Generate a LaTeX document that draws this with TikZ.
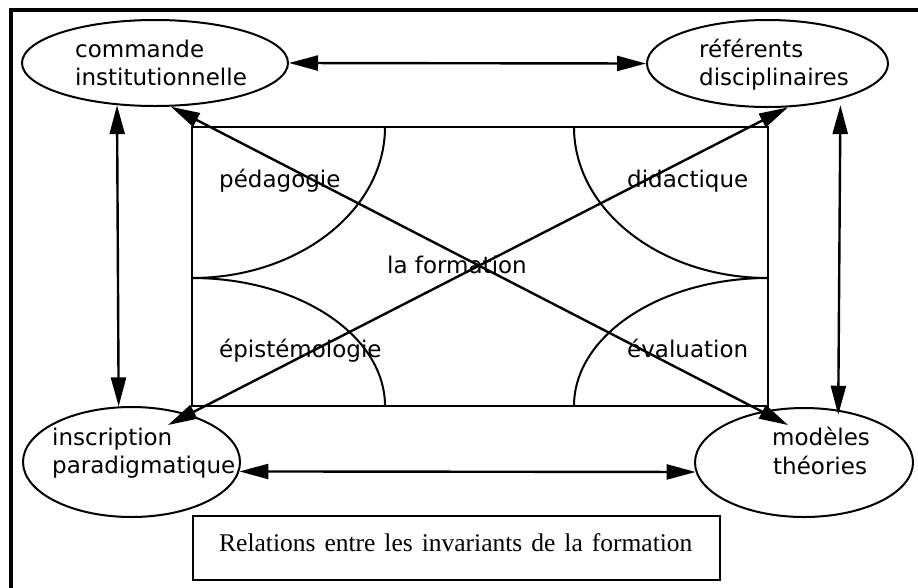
\documentclass[tikz,border=0pt]{standalone}
\usepackage{fontspec}
\setmainfont{DejaVu Sans}
\newfontfamily\capfont{Liberation Serif}
\usetikzlibrary{shapes.geometric,arrows.meta,calc}
\begin{document}
\begin{tikzpicture}[x=1pt,y=-1pt,
  lab/.style={anchor=base west, inner sep=0pt, font=\fontsize{23}{27}\selectfont},
  oval/.style={draw, ellipse, line width=2pt, inner sep=0pt},
  arr/.style={line width=2.4pt, {Triangle[length=29pt,width=15pt]}-{Triangle[length=29pt,width=15pt]}},
  shp/.style={line width=2pt}
]
\useasboundingbox (0,0) rectangle (918,587);
\clip (0,0) rectangle (918,587);
\draw[line width=3.5pt] (11,10) rectangle (940,610);

% central rectangle and quarter ellipses
\draw[shp] (192,127) rectangle (768,406);
\draw[shp] (385,127) .. controls (385,210.4) and (298.6,278) .. (192,278);
\draw[shp] (192,278) .. controls (298.6,278) and (385,335.3) .. (385,406);
\draw[shp] (574,127) .. controls (574,210.4) and (660.9,278) .. (768,278);
\draw[shp] (768,278) .. controls (660.9,278) and (574,335.3) .. (574,406);

% ellipses
\node[oval, minimum width=266pt, minimum height=86pt] (c1) at (155,63) {};
\node[oval, minimum width=241pt, minimum height=87pt] (c2) at (767.5,63.5) {};
\node[oval, minimum width=217pt, minimum height=110pt] (c3) at (131.5,462) {};
\node[oval, minimum width=218pt, minimum height=109pt] (c4) at (804,462.5) {};

% labels
\node[lab] (t1a) at (75,57) {commande};
\node[lab] (t1b) at (75,85) {institutionnelle};
\node[lab] (t2a) at (699,57) {référents};
\node[lab] (t2b) at (699,85) {disciplinaires};
\node[lab] (t3a) at (52,445) {inscription};
\node[lab] (t3b) at (52,473) {paradigmatique};
\node[lab] (t4a) at (772,445) {modèles};
\node[lab] (t4b) at (773,474) {théories};
\node[lab] (p) at (219,187) {pédagogie};
\node[lab] (d) at (627,187) {didactique};
\node[lab] (f) at (387,273) {la formation};
\node[lab] (e) at (219,357) {épistémologie};
\node[lab] (v) at (627,357) {évaluation};

% caption
\node[draw, line width=2.4pt, minimum width=527pt, minimum height=64pt, inner sep=0pt] (cap) at (456.5,548) {};
\node[anchor=base west, inner sep=0pt, font=\capfont\fontsize{25.5}{30}\selectfont] (capt) at (219,551) {\spaceskip=9pt Relations entre les invariants de la formation};

% connectors
\coordinate (m4) at (788,425);
\coordinate (m3) at (168,425);
\draw[arr] (c1.east) -- (c2.west);
\draw[arr] (c3.-5.4) -- (c4.185.4);
\draw[arr] (c1.228) -- (c3.103.3);
\draw[arr, shorten <=6pt, shorten >=-5pt] (c2.-26.6) -- (c4.57);
\draw[arr] (c1.-70.6) -- (m4);
\draw[arr] (m3) -- (c2.-65.6);
\end{tikzpicture}
\end{document}
